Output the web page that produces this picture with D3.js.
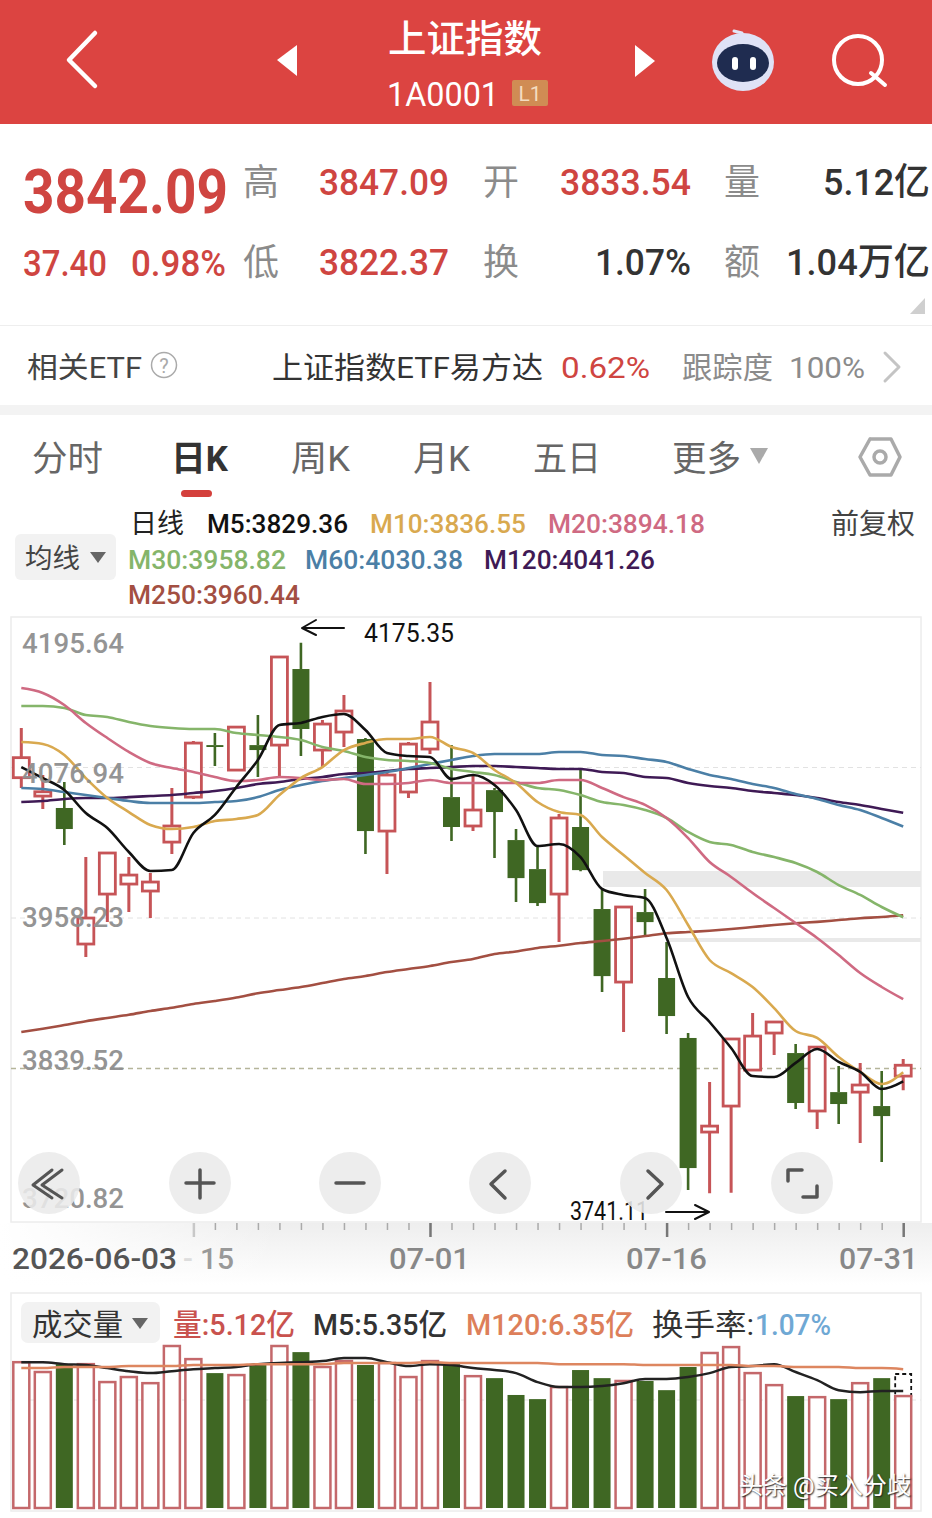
<!DOCTYPE html>
<html><head><meta charset="utf-8">
<style>html,body{margin:0;padding:0;background:#fff}svg{display:block}</style>
<script src="https://cdn.jsdelivr.net/npm/d3@7/dist/d3.min.js"></script>
</head><body><svg id="c" width="932" height="1518" viewBox="0 0 932 1518"></svg>
<script>
// ---------- data ----------
const dates=["2026-06-03","06-04","06-05","06-08","06-09","06-10","06-11","06-12","06-15","06-16","06-17","06-18","06-22","06-23","06-24","06-25","06-26","06-29","06-30","07-01","07-02","07-03","07-06","07-07","07-08","07-09","07-10","07-13","07-14","07-15","07-16","07-17","07-20","07-21","07-22","07-23","07-24","07-27","07-28","07-29","07-30","07-31"];
const opens=[4068.9,4054.4,4045.0,3937.7,3977.1,3985.0,3979.5,4018.1,4053.6,4094.6,4074.9,4094.6,4094.6,4154.6,4090.7,4104.9,4099.4,4026.8,4057.6,4091.5,4053.6,4030.8,4059.1,4019.7,3996.8,3977.1,4030.0,3965.3,3907.7,3962.9,3910.9,3863.6,3789.4,3809.9,3838.3,3867.5,3851.7,3806.0,3820.9,3820.9,3809.9,3833.54];
const closes=[4084.7,4057.8,4028.4,3958.2,4009.5,3992.1,3986.6,4030.8,4096.2,4093.1,4108.8,4090.7,4164.1,4107.3,4111.2,4121.5,4026.8,4071.0,4095.4,4112.8,4030.0,4043.4,4041.8,3989.7,3970.0,4037.1,3996.0,3912.4,3966.9,3955.0,3880.9,3761.0,3794.1,3862.8,3865.1,3876.2,3812.3,3856.4,3811.5,3826.5,3802.0,3842.09];
const highs=[4108.1,4071.0,4065.5,4006.3,4009.8,4006.3,3993.7,4060.8,4097.8,4104.1,4109.6,4118.3,4164.8,4175.35,4114.4,4134.1,4100.2,4072.6,4097.0,4144.3,4094.6,4071.0,4060.8,4028.4,4015.8,4040.2,4074.9,3981.9,3967.7,3981.1,3939.3,3867.5,3828.8,3863.6,3883.3,3877.0,3858.8,3857.2,3841.5,3843.8,3837.5,3847.09];
const lows=[4060.8,4044.2,4015.8,3927.4,3955.0,3962.9,3958.2,4008.7,4052.0,4078.1,4074.1,4069.4,4069.4,4086.0,4077.3,4093.1,4008.7,3992.9,4052.8,4087.5,4018.9,4026.8,4005.5,3970.8,3967.7,3939.3,3995.2,3899.8,3868.3,3944.8,3866.7,3743.7,3741.11,3741.5,3837.5,3850.1,3807.5,3791.8,3795.7,3780.7,3765.7,3822.37];
const m5=[4077.3,4068.6,4059.2,4041.0,4029.2,4010.3,3995.3,3996.1,4025.3,4039.5,4061.6,4082.9,4110.5,4112.1,4116.8,4119.1,4106.5,4088.4,4086.0,4085.2,4067.9,4071.0,4063.1,4043.4,4015.0,4016.6,4006.3,3981.1,3976.4,3974.0,3942.5,3895.9,3876.2,3855.7,3833.6,3832.8,3843.9,3854.9,3844.7,3836.8,3823.3,3829.36];
const m10=[4097.0,4095.5,4086.8,4068.6,4052.9,4041.8,4031.6,4028.4,4030.0,4034.7,4036.3,4039.5,4055.2,4068.6,4077.3,4090.7,4096.3,4099.4,4099.4,4101.0,4093.1,4088.4,4075.0,4064.7,4049.7,4041.8,4039.5,4022.1,4007.9,3993.7,3980.3,3952.7,3925.1,3914.8,3903.8,3887.2,3869.1,3863.6,3848.6,3836.8,3827.3,3836.55];
const m20=[4139.6,4135.7,4126.2,4112.1,4100.2,4089.2,4080.5,4076.5,4073.4,4069.4,4066.3,4067.1,4069.4,4068.6,4067.1,4067.9,4063.9,4063.9,4064.7,4067.1,4064.7,4064.7,4064.7,4064.7,4064.7,4067.1,4067.1,4060.8,4053.6,4047.4,4037.1,4021.3,4002.4,3990.6,3977.9,3966.1,3954.3,3942.5,3929.0,3914.8,3903.8,3894.18];
const m30=[4125.4,4125.4,4123.9,4118.3,4116.8,4112.8,4109.7,4108.1,4107.3,4107.3,4104.1,4102.6,4101.0,4098.6,4093.1,4089.9,4085.2,4082.9,4082.1,4080.5,4075.8,4073.4,4071.0,4065.5,4060.8,4059.2,4055.2,4049.7,4047.4,4043.4,4037.1,4026.1,4018.2,4015.8,4010.3,4006.3,4001.6,3994.5,3984.2,3976.4,3966.9,3958.82];
const m60=[4060.8,4060.0,4057.6,4055.2,4052.9,4050.5,4048.9,4048.9,4048.9,4049.7,4050.5,4053.6,4059.2,4063.1,4066.3,4068.6,4071.0,4073.4,4076.5,4079.7,4082.9,4086.0,4087.6,4087.6,4087.6,4089.2,4089.2,4086.8,4086.0,4083.6,4081.3,4075.8,4071.0,4067.9,4063.9,4060.8,4056.0,4052.1,4047.4,4043.4,4037.1,4030.38];
const m120=[4049.7,4050.5,4052.1,4052.9,4052.9,4053.6,4054.4,4055.2,4056.8,4058.4,4060.8,4063.9,4065.5,4067.9,4069.4,4071.8,4072.6,4074.2,4075.8,4076.5,4077.3,4078.1,4078.1,4077.3,4076.5,4075.8,4075.8,4073.4,4072.6,4069.4,4068.6,4064.7,4062.3,4060.8,4058.4,4056.8,4055.2,4052.9,4049.7,4047.4,4044.2,4041.26];
const m250=[3868.3,3870.9,3873.8,3876.8,3879.4,3881.9,3884.9,3887.4,3890.4,3892.8,3895.5,3898.9,3901.4,3903.8,3906.9,3910.1,3912.5,3915.6,3918.0,3920.4,3923.5,3925.9,3929.8,3931.8,3934.6,3936.4,3938.5,3940.1,3941.9,3944.0,3946.2,3947.2,3948.2,3949.5,3951.1,3952.7,3954.1,3955.2,3956.6,3958.0,3959.0,3960.44];
const volumes=[6.67,6.22,6.58,6.58,5.76,5.99,5.71,7.41,6.81,6.17,6.08,6.54,7.41,7.13,6.45,6.72,6.54,6.63,5.99,6.72,6.58,6.03,5.94,5.17,4.98,5.53,6.31,5.94,5.81,5.81,5.39,6.45,7.09,7.36,6.17,5.62,5.12,5.07,4.98,5.71,5.94,5.12];
const volM5=[6.67,6.67,6.58,6.54,6.40,6.26,6.17,6.26,6.35,6.40,6.45,6.58,6.63,6.67,6.72,6.86,6.86,6.67,6.49,6.58,6.54,6.40,6.31,6.17,5.76,5.53,5.53,5.58,5.71,5.90,5.90,5.99,6.17,6.45,6.49,6.58,6.22,5.85,5.39,5.30,5.35,5.35];
const volM120=[6.40,6.40,6.45,6.45,6.45,6.49,6.49,6.49,6.54,6.54,6.54,6.58,6.58,6.58,6.58,6.63,6.63,6.63,6.63,6.67,6.63,6.63,6.63,6.63,6.63,6.58,6.58,6.58,6.58,6.54,6.54,6.54,6.54,6.54,6.49,6.49,6.45,6.45,6.45,6.40,6.40,6.35];
const priceTicks=[4195.64,4076.94,3958.23,3839.52,3720.82];
const volPredictTop=6.13;

const RED="#c65457",GREEN="#3f6723";
const maColors={m5:"#111111",m10:"#d9a94f",m20:"#cf6a82",m30:"#85b56a",m60:"#4b7fa6",m120:"#3f1a55",m250:"#a34f42"};
const FONT='Roboto,"Noto Sans CJK SC",sans-serif';
const svg=d3.select("#c");
function T(x,y,s,size,fill,o={}){
  const t=svg.append("text").attr("x",x).attr("y",y).text(s)
    .attr("font-family",FONT).attr("font-size",size).attr("fill",fill)
    .attr("font-weight",o.w||400).attr("text-anchor",o.a||"start");
  if(o.len){t.attr("textLength",o.len).attr("lengthAdjust","spacingAndGlyphs");}
  if(o.op)t.attr("opacity",o.op);
  return t;
}
function P(pts,fill,stroke,sw){
  return svg.append("path").attr("d",d3.line()(pts)).attr("fill",fill||"none")
   .attr("stroke",stroke||"none").attr("stroke-width",sw||0)
   .attr("stroke-linecap","round").attr("stroke-linejoin","round");
}
function R(x,y,w,h,fill,rx){return svg.append("rect").attr("x",x).attr("y",y).attr("width",w).attr("height",h).attr("fill",fill).attr("rx",rx||0);}

// ---------- header ----------
R(0,0,932,124,"#dc4441");
P([[95,33],[69,60],[95,86]],null,"#fff",4.5);
P([[297,45],[297,76],[277,60]],"#fff");
P([[635,45],[635,77],[655,61]],"#fff");
T(465,52,"上证指数",38,"#fff",{a:"middle",len:154,w:500});
T(387,106,"1A0001",34,"#fff",{len:112});
R(512,80,36,26,"#d08c54",2);
T(530,101,"L1",21,"#f4dcc0",{a:"middle"});
// robot
P([[742,44],[742,33],[734,31]],null,"#e2e4f6",3);
svg.append("ellipse").attr("cx",743).attr("cy",62).attr("rx",31).attr("ry",29).attr("fill","#dfe2f6");
svg.append("ellipse").attr("cx",743).attr("cy",63).attr("rx",26).attr("ry",19).attr("fill","#1f2c50");
R(732,57,6,13,"#fff",3);R(750,57,6,13,"#fff",3);
svg.append("circle").attr("cx",858).attr("cy",60).attr("r",24).attr("fill","none").attr("stroke","#fff").attr("stroke-width",4);
P([[871,73],[885,85]],null,"#fff",4);

// ---------- quote block ----------
const QR="#cf4541",GY="#8b8b8b",DK="#333";
const big=T(0,0,"3842.09",62,QR,{w:700});
big.attr("transform",`translate(23,213) scale(${205/big.node().getComputedTextLength()},1)`);
T(23,276,"37.40",37,QR,{w:500,len:84});
T(131,276,"0.98%",37,QR,{w:500,len:95});
T(243,195,"高",36,GY);T(243,275,"低",36,GY);
T(319,195,"3847.09",37,QR,{w:500,len:130});
T(319,275,"3822.37",37,QR,{w:500,len:130});
T(483,195,"开",36,GY);T(483,275,"换",36,GY);
T(560,195,"3833.54",37,QR,{w:500,len:131});
T(595,275,"1.07%",37,DK,{w:500,len:96});
T(724,195,"量",36,GY);T(724,275,"额",36,GY);
T(823,195,"5.12亿",37,DK,{w:500,len:107});
T(786,275,"1.04万亿",37,DK,{w:500,len:144});
P([[925,298],[925,314],[910,314]],"#cfcfcf");
R(0,325,932,1,"#eeeeee");
T(27,378,"相关ETF",29,"#444",{len:115});
svg.append("circle").attr("cx",164).attr("cy",365).attr("r",12.5).attr("fill","none").attr("stroke","#aaa").attr("stroke-width",1.5);
T(164,373,"?",20,"#aaa",{a:"middle"});
T(272,378,"上证指数ETF易方达",30,"#333",{len:271});
T(561,378,"0.62%",30,QR,{len:89});
T(682,378,"跟踪度",30,GY,{len:91});
T(789,378,"100%",30,GY,{len:76});
P([[885,353],[899,367],[885,381]],null,"#c4c4c4",3);
R(0,405,932,10,"#f3f3f3");

// ---------- tabs ----------
T(32,471,"分时",35,"#666",{len:71});
T(171,471,"日K",35,"#333",{w:700,len:57});
T(291,471,"周K",35,"#666",{len:59});
T(413,471,"月K",35,"#666",{len:57});
T(533,471,"五日",35,"#666",{len:68});
T(672,471,"更多",35,"#666",{len:69});
P([[750,448],[768,448],[759,464]],"#aaaaaa");
P([[870,439],[891,439],[900,457],[891,475],[870,475],[860,457],[870,439]],null,"#aaa",3.5);
svg.append("circle").attr("cx",880).attr("cy",457).attr("r",6).attr("fill","none").attr("stroke","#aaa").attr("stroke-width",3.5);
R(181,490,31,7,"#d4403c",3.5);

// ---------- legend ----------
T(130,533,"日线",27,"#222",{len:54});
T(207,533,"M5:3829.36",26,"#111",{len:141,w:500});
T(370,533,"M10:3836.55",26,maColors.m10,{len:156,w:500});
T(548,533,"M20:3894.18",26,maColors.m20,{len:157,w:500});
T(831,534,"前复权",28,"#444",{len:84});
R(15,534,101,46,"#f2f2f2",6);
T(25,568,"均线",27,"#444",{len:55});
P([[90,552],[106,552],[98,563]],"#666");
T(128,569,"M30:3958.82",26,maColors.m30,{len:158,w:500});
T(305,569,"M60:4030.38",26,maColors.m60,{len:158,w:500});
T(484,569,"M120:4041.26",26,maColors.m120,{len:171,w:500});
T(128,604,"M250:3960.44",26,maColors.m250,{len:172,w:500});

// ---------- price panel ----------
const x=d3.scalePoint().domain(dates).range([21.3,903.2]);
const y=d3.scaleLinear().domain([3720.82,4195.64]).range([1219,617]);
const yv=d3.scaleLinear().domain([0,7.41]).range([1508,1346]);
svg.append("rect").attr("x",11).attr("y",617).attr("width",910).attr("height",605).attr("fill","#fff").attr("stroke","#ececec").attr("stroke-width",1.5);
R(603,871,318,16,"#e9e9e9");
R(667,938,254,4,"#e9e9e9");
priceTicks.slice(1,4).forEach((p,i)=>{
  svg.append("line").attr("x1",11).attr("x2",921).attr("y1",y(p)).attr("y2",y(p))
   .attr("stroke",i===2?"#b5b59a":"#e2e2e2").attr("stroke-width",i===2?1.5:1).attr("stroke-dasharray","5 4");
});
const idx=d3.range(dates.length);
const cg=svg.append("g");
const isUp=i=>closes[i]>=opens[i];
cg.selectAll("path.wick").data(idx).join("path").attr("class","wick")
  .attr("d",i=>{
    const top=Math.max(opens[i],closes[i]),bot=Math.min(opens[i],closes[i]);
    const X=x(dates[i]);
    return `M${X},${y(highs[i])}V${y(top)}M${X},${y(bot)}V${y(lows[i])}`;
  })
  .attr("fill","none").attr("stroke",i=>isUp(i)?RED:GREEN).attr("stroke-width",i=>isUp(i)?3:2.6);
cg.selectAll("rect.body").data(idx).join("rect").attr("class","body")
  .attr("x",i=>x(dates[i])-(isUp(i)?8:8.5))
  .attr("width",i=>isUp(i)?16:17)
  .attr("y",i=>y(Math.max(opens[i],closes[i])))
  .attr("height",i=>Math.max(1,Math.abs(y(opens[i])-y(closes[i]))))
  .attr("fill",i=>isUp(i)?"#fff":GREEN)
  .attr("stroke",i=>isUp(i)?RED:"none").attr("stroke-width",2.8);
const mkLine=(sc)=>d3.line().x((d,i)=>x(dates[i])).y(d=>sc(d)).curve(d3.curveMonotoneX);
[["m250",m250],["m120",m120],["m60",m60],["m30",m30],["m20",m20],["m10",m10],["m5",m5]].forEach(([k,arr])=>{
  svg.append("path").attr("d",mkLine(y)(arr)).attr("fill","none").attr("stroke",maColors[k]).attr("stroke-width",2.6).attr("stroke-linejoin","round");
});
// y labels
const ylabY=[653,783,927,1070,1208];
priceTicks.forEach((p,i)=>T(22,ylabY[i],p.toFixed(2),28,"#8f8f8f",{w:500,len:102,op:.95}));
// annotations
T(364,642,"4175.35",26,"#111",{len:90});
P([[344,628],[303,628]],null,"#111",2);P([[316,620],[302,628],[316,635]],null,"#111",2);
T(570,1220,"3741.11",26,"#111",{len:78});
P([[666,1212],[708,1212]],null,"#111",2);P([[695,1205],[709,1212],[695,1219]],null,"#111",2);
// buttons
[49,200,350,500,651,802].forEach(cx=>svg.append("circle").attr("cx",cx).attr("cy",1183).attr("r",31).attr("fill","#ebebeb").attr("opacity",.88));
const IC="#555";
P([[62,1170],[42,1185],[62,1198]],null,IC,3);P([[52,1170],[33,1185],[52,1198]],null,IC,3);
P([[186,1183],[214,1183]],null,IC,3.5);P([[200,1170],[200,1198]],null,IC,3.5);
P([[336,1183],[364,1183]],null,IC,3.5);
P([[505,1171],[491,1184],[505,1198]],null,IC,3.5);
P([[648,1171],[662,1184],[648,1198]],null,IC,3.5);
P([[788,1181],[788,1170],[802,1170]],null,IC,3.5);P([[817,1186],[817,1197],[803,1197]],null,IC,3.5);

// ---------- time axis ----------
const defs=svg.append("defs");
const gr=defs.append("linearGradient").attr("id","fade").attr("x1",0).attr("y1",0).attr("x2",0).attr("y2",1);
gr.append("stop").attr("offset",0).attr("stop-color","#eeeeee");
gr.append("stop").attr("offset",1).attr("stop-color","#ffffff");
const gl=defs.append("linearGradient").attr("id","fadeL").attr("x1",0).attr("y1",0).attr("x2",1).attr("y2",0);
gl.append("stop").attr("offset",0).attr("stop-color","#ffffff");
gl.append("stop").attr("offset",1).attr("stop-color","#ffffff").attr("stop-opacity",0);
R(0,1223,932,62,"url(#fade)");
R(0,1223,280,62,"url(#fadeL)");
const tickDates=dates.slice(8);
const majors=["07-01","07-16","07-31"];
const ax=svg.append("g").attr("transform","translate(0,1223)")
  .call(d3.axisBottom(x).tickValues(tickDates).tickSize(7).tickFormat(""));
ax.select(".domain").remove();
ax.selectAll("line").attr("stroke","#aaaaaa").attr("stroke-width",1.5);
const ax2=svg.append("g").attr("transform","translate(0,1223)")
  .call(d3.axisBottom(x).tickValues(majors).tickSize(14).tickFormat(""));
ax2.select(".domain").remove();
ax2.selectAll("line").attr("stroke","#777").attr("stroke-width",2.5);
const ax3=svg.append("g").attr("transform","translate(0,1223)")
  .call(d3.axisBottom(x).tickValues(["06-15"]).tickSize(14).tickFormat(""));
ax3.select(".domain").remove();
ax3.selectAll("line").attr("stroke","#c8c8c8").attr("stroke-width",2.5);
T(12,1269,dates[0],29,"#555",{w:500,len:165});
T(183,1269,"-",29,"#dddddd",{w:500});
T(200,1269,"15",29,"#999",{w:500,len:34});
T(389,1269,"07-01",29,"#888",{w:500,len:81});
T(626,1269,"07-16",29,"#888",{w:500,len:81});
T(839,1269,"07-31",29,"#888",{w:500,len:79});

// ---------- volume panel ----------
svg.append("rect").attr("x",11).attr("y",1293).attr("width",910).attr("height",218).attr("fill","#fff").attr("stroke","#ececec").attr("stroke-width",1.5);
svg.append("line").attr("x1",11).attr("x2",921).attr("y1",1400).attr("y2",1400).attr("stroke","#e6e6e6").attr("stroke-dasharray","5 4");
const vg=svg.append("g");
svg.append("rect").attr("x",x("07-31")-8).attr("width",16).attr("y",yv(volPredictTop)).attr("height",yv(volumes[41])-yv(volPredictTop))
  .attr("fill","#fff").attr("stroke","#111").attr("stroke-width",1.8).attr("stroke-dasharray","4 3");
vg.selectAll("rect").data(idx).join("rect")
  .attr("x",i=>x(dates[i])-(isUp(i)?8:8.5))
  .attr("width",i=>isUp(i)?16:17)
  .attr("y",i=>yv(volumes[i]))
  .attr("height",i=>yv(0)-yv(volumes[i]))
  .attr("fill",i=>isUp(i)?"#fff":GREEN)
  .attr("stroke",i=>isUp(i)?"#c4686b":"none").attr("stroke-width",2.5);
vg.raise();
svg.append("path").attr("d",mkLine(yv)(volM5)).attr("fill","none").attr("stroke","#222").attr("stroke-width",2.5);
svg.append("path").attr("d",mkLine(yv)(volM120)).attr("fill","none").attr("stroke","#dd8660").attr("stroke-width",2.5);
R(21,1302,139,41,"#f2f2f2",7);
T(32,1335,"成交量",30,"#333",{len:91});
P([[132,1318],[148,1318],[140,1329]],"#666");
T(173,1335,"量:5.12亿",30,"#c9524e",{len:122,w:500});
T(313,1335,"M5:5.35亿",30,"#333",{len:134,w:500});
T(466,1335,"M120:6.35亿",30,"#dd7f5a",{len:168,w:500});
T(652,1335,"换手率:",30,"#333",{len:102});
T(755,1335,"1.07%",30,"#6fa8d4",{len:76,w:500});
T(739,1494,"头条 @买入分歧",24,"#ffffff",{len:172}).style("text-shadow","1px 1px 1.5px #222");
</script></body></html>
